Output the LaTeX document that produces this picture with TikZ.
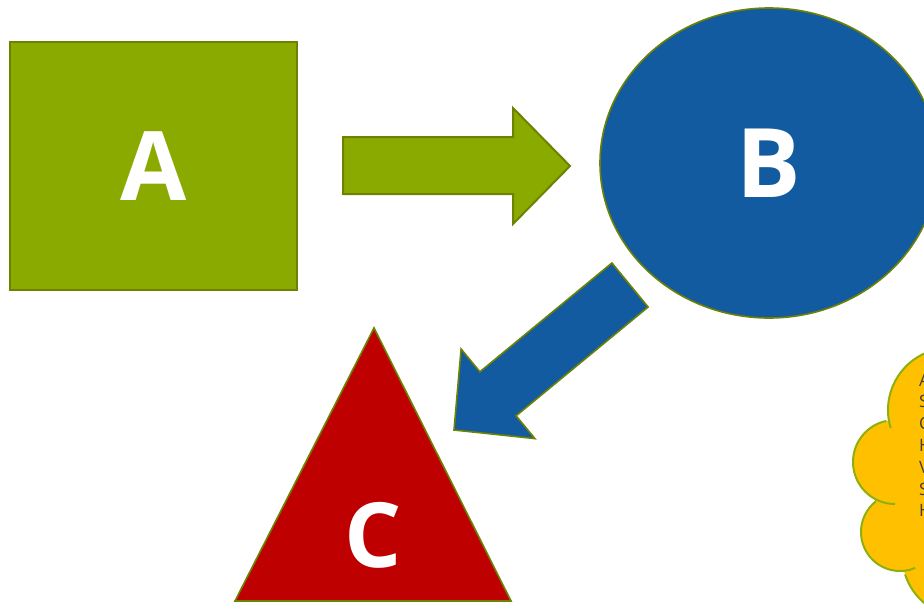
\documentclass[tikz,border=0pt]{standalone}
\usepackage{fontspec}
\usetikzlibrary{shapes.geometric}
\newfontfamily\shapefont{Open Sans}
\definecolor{olivefill}{HTML}{8BAA00}
\definecolor{olivedraw}{HTML}{6C8200}
\definecolor{bluefill}{HTML}{135BA1}
\definecolor{redfill}{HTML}{BE0000}
\definecolor{cloudfill}{HTML}{FFC000}
\definecolor{clouddraw}{HTML}{8DB00F}
\definecolor{cloudtext}{HTML}{404040}
\begin{document}
\begin{tikzpicture}[x=1pt,y=-1pt,
    shapeline/.style={draw=olivedraw,line width=1.6pt},
    bigletter/.style={text=white,font=\shapefont\bfseries\fontsize{96}{96}\selectfont}]
      \useasboundingbox (0,0) rectangle (924,603);
      \clip (0,0) rectangle (924,603);
      \node[shapeline,line width=2pt,fill=olivefill,minimum width=287pt,minimum height=248pt,bigletter] (A) at (153.5,166) {A};
      \node[shapeline,fill=bluefill,ellipse,minimum width=338pt,minimum height=310pt,inner sep=0pt,bigletter] (B) at (769,163) {B};
      \draw[shapeline,fill=redfill] (374,328) -- (511,601) -- (235,601) -- cycle;
      \node[bigletter,font=\shapefont\bfseries\fontsize{90}{90}\selectfont] (C) at (373.5,535) {C};
      \draw[shapeline,line width=2pt,fill=olivefill] (343,137) -- (513,137) -- (513,108) -- (570,166) -- (513,224) -- (513,194) -- (343,194) -- cycle;
      \draw[shapeline,fill=bluefill] (611.9,263) -- (648.1,307) -- (516.1,415.8) -- (534.9,438.6) -- (454,430) -- (461.1,349) -- (479.9,371.8) -- cycle;
      \fill[cloudfill] (950,410) circle (62) (895,462) circle (42) (900,532) circle (39) (965,555) circle (63)
        (900,430) -- (940,360) -- (1000,360) -- (1000,620) -- (930,600) -- (900,560) -- cycle;
      \draw[clouddraw,line width=2pt]
        ([shift={(163:62)}]950,410) arc[start angle=163,end angle=300,radius=62]
        ([shift={(90:42)}]895,462) arc[start angle=90,end angle=258,radius=42]
        ([shift={(67:39)}]900,532) arc[start angle=67,end angle=232,radius=39]
        ([shift={(100:63)}]965,555) arc[start angle=100,end angle=162,radius=63];
      \foreach \txt [count=\i from 0] in {A,S,C,H,V,S,H}
        \node[anchor=west,inner sep=0pt,text=cloudtext,font=\shapefont\fontsize{17}{17}\selectfont] (cloud\i) at (919,380+21.8*\i) {\txt};
    \end{tikzpicture}
\end{document}
